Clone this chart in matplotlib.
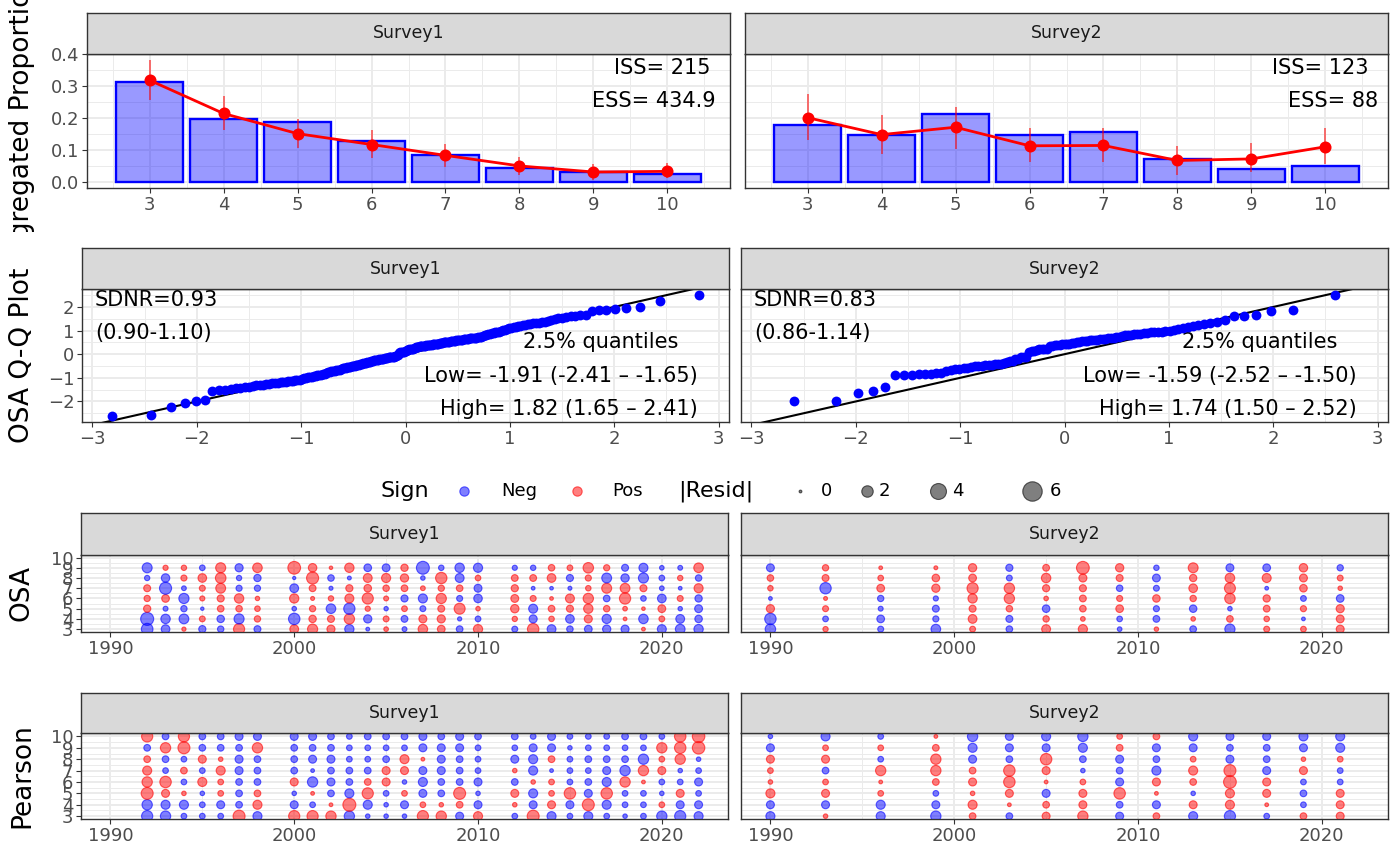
import statistics
import numpy as np
import matplotlib
matplotlib.use("Agg")
import matplotlib.pyplot as plt
from matplotlib.transforms import Bbox, TransformedBbox

# ---------------- data ----------------
ages = [3, 4, 5, 6, 7, 8, 9, 10]

# aggregated proportions (bars = observed, points = predicted, whiskers = interval)
obs_s1 = [0.313, 0.197, 0.186, 0.127, 0.084, 0.044, 0.032, 0.024]
pred_s1 = [0.318, 0.214, 0.151, 0.117, 0.083, 0.050, 0.031, 0.033]
lo_s1 = [0.256, 0.163, 0.106, 0.074, 0.046, 0.023, 0.007, 0.013]
hi_s1 = [0.381, 0.269, 0.198, 0.161, 0.120, 0.079, 0.055, 0.059]

obs_s2 = [0.179, 0.147, 0.211, 0.147, 0.155, 0.073, 0.041, 0.049]
pred_s2 = [0.201, 0.148, 0.171, 0.113, 0.114, 0.067, 0.072, 0.110]
lo_s2 = [0.130, 0.088, 0.104, 0.063, 0.063, 0.023, 0.032, 0.055]
hi_s2 = [0.275, 0.209, 0.235, 0.170, 0.170, 0.113, 0.121, 0.170]

iss_labels = ["ISS= 215", "ISS= 123"]
ess_labels = ["ESS= 434.9", "ESS= 88"]
sdnr_labels = [["SDNR=0.93", "(0.90-1.10)"], ["SDNR=0.83", "(0.86-1.14)"]]
quant_labels = [["Low= -1.91 (-2.41 \u2013 -1.65)", "High= 1.82 (1.65 \u2013 2.41)"],
                ["Low= -1.59 (-2.52 \u2013 -1.50)", "High= 1.74 (1.50 \u2013 2.52)"]]

years_s1 = [1992, 1993, 1994, 1995, 1996, 1997, 1998,
            2000, 2001, 2002, 2003, 2004, 2005, 2006, 2007, 2008, 2009, 2010,
            2012, 2013, 2014, 2015, 2016, 2017, 2018, 2019, 2020, 2021, 2022]
years_s2 = [1990, 1993, 1996, 1999, 2001, 2003, 2005, 2007, 2009, 2011,
            2013, 2015, 2017, 2019, 2021]

osa_ages = [3, 4, 5, 6, 7, 8, 9]

# OSA residuals, one row per year, ages 3..9
osa_s1 = [
    [-2.07, -2.62, 0.72, 0.51, 0.66, -0.33, -1.48],
    [-1.08, -1.31, -0.27, 0.83, -2.24, -1.02, 0.31],
    [0.16, -1.42, -0.52, -1.56, -0.24, 0.47, 0.34],
    [-0.71, 0.43, -0.06, 0.29, 0.45, 1.07, -0.39],
    [-0.54, -0.77, 0.59, 0.69, 1.45, 1.68, 1.52],
    [1.89, -1.52, 0.56, 1.31, -0.48, -0.33, -0.95],
    [-0.65, 0.53, 0.38, 0.19, -0.50, -0.73, 1.36],
    [1.12, -2.00, -0.21, 1.26, -1.12, -0.04, 2.49],
    [1.55, 0.76, 0.51, 0.13, 0.64, 2.24, 1.04],
    [0.93, 0.68, -1.37, 0.35, -0.14, -0.57, 0.07],
    [-1.27, 1.61, -1.94, 1.18, 0.70, -0.12, 1.29],
    [-0.11, -0.97, 0.32, 1.89, 0.80, 1.14, -0.82],
    [0.22, 0.44, -0.18, 0.27, 0.55, 1.22, -0.86],
    [-0.26, -0.62, 0.41, -0.69, 0.61, 0.98, 0.74],
    [1.34, 0.90, -0.44, -1.21, 0.24, -0.20, -2.58],
    [0.84, 0.95, 0.65, 1.57, 0.52, 1.97, -0.36],
    [-0.60, -0.16, 1.83, -0.46, 0.58, -1.16, -1.31],
    [1.25, -0.41, 0.20, -1.05, -0.89, 0.39, -1.23],
    [-0.45, 0.33, 1.01, 0.88, 0.71, 0.62, -0.30],
    [2.00, -0.93, -1.19, 0.46, -0.10, 0.63, -0.35],
    [-1.14, 0.37, 0.60, 0.09, -0.08, 1.10, 0.57],
    [-0.56, -1.09, 0.68, 1.17, -0.13, -0.68, 0.40],
    [-0.84, 0.92, 1.30, 1.60, 0.36, 0.49, 1.65],
    [-0.98, -1.25, 0.54, -0.59, 1.48, -1.45, 0.50],
    [-0.92, 0.10, 0.22, 1.93, 1.41, -1.00, -0.66],
    [0.10, -1.34, 0.08, -0.38, 0.68, -1.52, -1.20],
    [-1.17, 0.42, 0.86, -1.09, -0.23, -0.40, -0.21],
    [-1.40, -1.13, -0.19, 0.45, -0.10, 0.34, -0.25],
    [-1.29, -0.79, -0.88, -0.74, 1.20, -0.55, 1.38],
]
osa_s2 = [
    [-1.66, -1.99, 0.95, -0.10, 0.36, 0.57, -0.88],
    [0.33, -0.40, 0.45, 0.12, -1.96, 0.65, 0.52],
    [-0.45, -0.83, -0.27, -0.52, 0.84, 0.39, 0.10],
    [-1.38, -0.48, -0.64, -0.30, 0.96, 0.80, 0.12],
    [0.43, 1.12, 0.67, 1.27, 1.89, 0.85, 0.98],
    [-0.58, -0.66, 0.55, 1.60, 1.62, -0.43, -0.70],
    [1.15, 0.53, -0.80, 0.21, 0.70, 1.31, 0.62],
    [1.24, 0.23, 0.58, 0.64, 0.69, 0.93, 2.52],
    [-0.22, -0.39, 0.82, 0.47, -0.56, 0.66, 0.99],
    [0.19, -0.61, -0.47, 0.78, -0.44, -0.86, -0.35],
    [-0.60, 0.21, -0.78, 0.54, 1.08, 0.74, 1.46],
    [-1.57, 0.59, -0.20, 1.65, 1.82, 1.36, -0.89],
    [0.44, 0.37, 0.61, 0.73, -0.10, 1.18, -0.84],
    [0.40, -0.10, 0.48, -0.42, 0.81, 0.89, 1.03],
    [0.90, 0.87, 0.94, -0.82, 0.20, 0.43, -0.52],
]

# Pearson residuals, one row per year, ages 3..10
pearson_s1 = [
    [-1.9, -1.6, 2.2, 1.6, 1.2, 0.6, -0.6, 1.9],
    [-1.6, -1.2, 0.9, 2.0, -0.4, -0.6, 1.6, -0.6],
    [-0.4, -1.2, 0.2, -0.4, 0.6, -0.4, 2.2, 1.9],
    [-0.4, -0.4, -0.2, 1.2, -0.4, 0.9, -0.6, -0.6],
    [-0.4, -0.9, 0.4, 0.4, 1.2, 0.2, -0.6, -0.6],
    [2.2, -0.6, -0.6, -0.6, -0.9, -0.9, -0.6, -0.9],
    [-1.2, 1.2, 0.6, -0.6, -0.6, -0.6, 1.6, -0.9],
    [1.9, -0.9, -0.2, 0.9, -0.6, -0.6, -0.6, -0.9],
    [1.9, -0.4, 0.1, -1.6, -0.1, -0.9, -0.6, -0.9],
    [1.6, 0.1, -0.6, -0.9, -0.6, -0.9, -0.6, -0.6],
    [-1.6, 2.6, -1.2, -0.6, -0.6, -0.4, -0.4, -0.4],
    [-0.2, -1.2, 1.9, 0.6, -0.6, -0.4, -0.4, -0.6],
    [-0.2, -0.2, -0.4, 0.9, 0.9, -0.6, -0.4, -0.6],
    [-0.2, -0.9, 0.4, -0.2, 0.9, 1.2, -0.4, -0.6],
    [1.9, 0.4, -0.9, -1.2, -0.9, 0.1, -0.9, -0.9],
    [1.6, 0.2, -0.6, -0.6, -0.9, -0.9, -0.9, -0.6],
    [-0.9, 0.6, 2.2, -0.6, -0.6, -0.6, -0.9, -0.9],
    [1.2, -0.9, -0.2, -0.9, -0.4, -0.4, -0.4, -0.6],
    [-0.4, 0.2, 0.9, -0.6, 0.2, -0.9, -0.4, -0.6],
    [2.2, -0.9, -1.2, 0.2, -1.2, -1.2, -0.9, -0.4],
    [-1.2, 0.9, 0.4, 0.4, -0.1, 0.6, -0.9, -0.9],
    [-0.4, -0.9, 2.0, -0.4, -0.4, -0.4, -0.2, -0.4],
    [-1.2, 2.2, -0.9, -0.6, -0.4, -0.6, -0.4, -0.4],
    [-0.4, -1.2, 2.0, -1.2, -0.9, -0.6, -0.4, -0.4],
    [-0.2, -0.4, -0.4, 1.6, -1.6, -0.6, -0.4, -0.6],
    [-0.4, -0.4, -0.4, 0.1, 1.6, -1.6, -0.4, -0.6],
    [-1.6, 0.4, -0.2, -0.4, 0.9, 0.4, 1.6, -0.4],
    [-1.9, -0.9, 0.9, -0.4, -0.2, 1.6, 2.0, 2.0],
    [-1.2, -0.9, -0.4, -0.9, -0.4, -0.2, 2.4, 2.4],
]
pearson_s2 = [
    [-1.2, -0.9, 1.2, 0.2, 0.4, 0.9, -0.9, -0.2],
    [0.2, -0.9, 0.9, 0.4, -0.6, 0.9, 0.4, -1.2],
    [-1.2, -1.2, 0.4, 0.1, 1.6, -0.4, 0.4, -0.4],
    [-1.6, -0.9, -0.4, 0.6, 1.6, 1.6, 0.6, 0.1],
    [0.6, 1.2, 0.2, 0.9, 0.6, -0.9, -1.2, -1.6],
    [-0.6, 0.1, 0.9, 2.0, 2.0, -0.6, -0.9, -0.9],
    [0.9, 0.6, -0.9, 0.1, 0.9, 2.0, -0.9, -1.2],
    [1.6, 0.9, 0.9, 0.4, -0.2, -0.6, -1.2, -1.6],
    [-0.9, -0.6, 2.0, -0.9, -0.6, -0.9, 0.6, 0.4],
    [0.6, -0.9, 0.1, 0.9, -1.2, -0.6, -0.9, 0.6],
    [-1.2, 0.9, -0.2, 0.6, 1.2, 0.4, -0.9, -1.2],
    [-1.9, 1.2, 1.2, 2.5, 2.2, -0.9, -0.6, -0.9],
    [-0.4, 0.1, 0.9, 0.9, -0.9, -0.6, -0.6, -0.9],
    [0.6, -0.4, -0.6, -0.4, 0.9, 0.2, -0.9, -1.2],
    [0.9, 0.9, 0.9, -0.4, -0.4, 0.4, -1.2, -1.2],
]

size_keys = [0, 2, 4, 6]

# ---------------- styling ----------------
W, H = 1400, 866
GRID = "#EBEBEB"
BORDER = "#333333"
TICKTXT = "#4D4D4D"
TICK_FS = 13
STRIP_FS = 12.5
TITLE_FS = 19
ANNOT_FS = 15

fig = plt.figure(figsize=(W / 100, H / 100), dpi=100)


def rect(x0, y0, x1, y1):
    return [x0 / W, 1 - y1 / H, (x1 - x0) / W, (y1 - y0) / H]


def make_panel(px, strip_top, title):
    x0, y0, x1, y1 = px
    ax = fig.add_axes(rect(x0, y0, x1, y1))
    sax = fig.add_axes(rect(x0, strip_top, x1, y0))
    sax.set_facecolor("#D9D9D9")
    sax.set_xticks([])
    sax.set_yticks([])
    for sp in sax.spines.values():
        sp.set_color(BORDER)
        sp.set_linewidth(1.0)
    sax.text(0.5, 0.5, title, ha="center", va="center", fontsize=STRIP_FS,
             color="#1A1A1A", transform=sax.transAxes)
    ax.set_axisbelow(True)
    for sp in ax.spines.values():
        sp.set_color(BORDER)
        sp.set_linewidth(1.0)
    ax.tick_params(axis="both", which="major", length=3.5, width=0.8, color=BORDER,
                   labelsize=TICK_FS, labelcolor=TICKTXT, pad=2)
    ax.tick_params(axis="both", which="minor", length=0)
    ax.grid(True, which="major", color=GRID, linewidth=1.4)
    ax.grid(True, which="minor", color=GRID, linewidth=0.7)
    return ax


# ---------------- row 1: aggregated proportions ----------------
top_specs = [
    ((87, 54, 730, 188), obs_s1, pred_s1, lo_s1, hi_s1, "Survey1", True,
     (0.970, 0.977)),
    ((745, 54, 1388, 188), obs_s2, pred_s2, lo_s2, hi_s2, "Survey2", False,
     (0.970, 0.984)),
]
for i, (px, obs, pred, lo, hi, name, show_y, xr) in enumerate(top_specs):
    ax = make_panel(px, 13, name)
    ax.bar(ages, obs, width=0.9, facecolor=(0, 0, 1, 0.4), edgecolor="#0000FF",
           linewidth=1.7)
    ax.vlines(ages, lo, hi, color=(1, 0, 0, 0.55), linewidth=1.4)
    ax.plot(ages, pred, color="#FF0000", linewidth=2.0, zorder=3)
    ax.scatter(ages, pred, s=75, color="#FF0000", zorder=4, linewidths=0)
    ax.set_xlim(2.155, 10.845)
    ax.set_ylim(-0.019, 0.40)
    ax.set_xticks(ages)
    ax.set_xticks([2.5, 3.5, 4.5, 5.5, 6.5, 7.5, 8.5, 9.5, 10.5], minor=True)
    ax.set_yticks([0.0, 0.1, 0.2, 0.3, 0.4])
    ax.set_yticks([0.05, 0.15, 0.25, 0.35], minor=True)
    if show_y:
        ax.set_yticklabels(["0.0", "0.1", "0.2", "0.3", "0.4"])
    else:
        ax.tick_params(axis="y", which="major", length=0, labelleft=False)
    ax.text(xr[0], 0.896, iss_labels[i], transform=ax.transAxes, ha="right",
            va="center", fontsize=ANNOT_FS, color="black")
    ax.text(xr[1], 0.649, ess_labels[i], transform=ax.transAxes, ha="right",
            va="center", fontsize=ANNOT_FS, color="black")

# ---------------- row 2: OSA Q-Q plots ----------------
nd = statistics.NormalDist()
qq_specs = [((82, 289, 729, 422), osa_s1, "Survey1", True),
            ((741, 289, 1388, 422), osa_s2, "Survey2", False)]
for i, (px, mat, name, show_y) in enumerate(qq_specs):
    ax = make_panel(px, 248, name)
    sample = np.sort(np.asarray(mat).ravel())
    n = len(sample)
    theo = [nd.inv_cdf((k - 0.5) / n) for k in range(1, n + 1)]
    ax.plot([-3.5, 3.5], [-3.5, 3.5], color="black", linewidth=1.5, zorder=3)
    ax.scatter(theo, sample, s=50, color="#0000FF", linewidths=0, zorder=4)
    ax.set_xlim(-3.1, 3.1)
    ax.set_ylim(-2.87, 2.76)
    ax.set_xticks([-3, -2, -1, 0, 1, 2, 3])
    ax.set_xticks([-2.5, -1.5, -0.5, 0.5, 1.5, 2.5], minor=True)
    ax.set_yticks([-2, -1, 0, 1, 2])
    ax.set_yticks([-2.5, -1.5, -0.5, 0.5, 1.5, 2.5], minor=True)
    if not show_y:
        ax.tick_params(axis="y", which="major", length=0, labelleft=False)
    ax.text(0.02, 0.917, sdnr_labels[i][0], transform=ax.transAxes, ha="left",
            va="center", fontsize=ANNOT_FS)
    ax.text(0.02, 0.669, sdnr_labels[i][1], transform=ax.transAxes, ha="left",
            va="center", fontsize=ANNOT_FS)
    ax.text(0.922, 0.60, "2.5% quantiles", transform=ax.transAxes, ha="right",
            va="center", fontsize=ANNOT_FS)
    ax.text(0.951, 0.346, quant_labels[i][0], transform=ax.transAxes, ha="right",
            va="center", fontsize=ANNOT_FS)
    ax.text(0.952, 0.098, quant_labels[i][1], transform=ax.transAxes, ha="right",
            va="center", fontsize=ANNOT_FS)


# ---------------- rows 3-4: bubble plots ----------------
def bubble_size(v):
    return 4.0 + 32.0 * np.abs(v)


def bubbles(ax, years, ages_, mat):
    vals = np.asarray(mat)
    xs = np.repeat(years, len(ages_))
    ys = np.tile(ages_, len(years))
    v = vals.ravel()
    face = np.where(v[:, None] < 0, [[0, 0, 1, 0.5]], [[1, 0, 0, 0.5]])
    edge = np.where(v[:, None] < 0, [[0, 0, 1, 0.6]], [[1, 0, 0, 0.6]])
    ax.scatter(xs, ys, s=bubble_size(v), c=face, edgecolors=edge, linewidths=0.8,
               zorder=3)


bubble_rows = [
    (513, 555, 632, osa_s1, osa_s2, osa_ages, (2.72, 10.25)),
    (693, 733, 819, pearson_s1, pearson_s2, ages, (2.75, 10.3)),
]
for strip_top, top, bot, m1, m2, ag, ylim in bubble_rows:
    for px, years, mat, name, show_y in [((81, top, 728, bot), years_s1, m1, "Survey1", True),
                                          ((741, top, 1388, bot), years_s2, m2, "Survey2", False)]:
        ax = make_panel(px, strip_top, name)
        bubbles(ax, years, ag, mat)
        ax.set_xlim(1988.4, 2023.6)
        ax.set_ylim(*ylim)
        ax.set_xticks([1990, 2000, 2010, 2020])
        ax.set_xticks([1995, 2005, 2015], minor=True)
        ax.set_yticks(ages)
        ax.set_yticks([3.5, 4.5, 5.5, 6.5, 7.5, 8.5, 9.5], minor=True)
        if not show_y:
            ax.tick_params(axis="y", which="major", length=0, labelleft=False)

# ---------------- axis titles ----------------
title_specs = [("Aggregated Proportion", 123, (0, 232)),
               ("OSA Q-Q Plot", 355, (232, 470)),
               ("OSA", 593, (470, 660)),
               ("Pearson", 776, (660, 866))]
for label, yc, (ya, yb) in title_specs:
    t = fig.text(22 / W, 1 - yc / H, label, rotation=90, ha="center", va="center",
                 fontsize=TITLE_FS, color="black")
    clip = TransformedBbox(Bbox.from_extents(0, 1 - yb / H, 0.06, 1 - ya / H),
                           fig.transFigure)
    t.set_clip_box(clip)
    t.set_clip_on(True)

# ---------------- legend ----------------
lg = fig.add_axes([0, 0, 1, 1], facecolor="none")
lg.set_xlim(0, W)
lg.set_ylim(H, 0)
lg.axis("off")
ly = 491
lg.text(380, ly, "Sign", ha="left", va="center", fontsize=16)
lg.scatter([464], [ly], s=45, color=(0, 0, 1, 0.5), edgecolors=(0, 0, 1, 0.6),
           linewidths=0.8)
lg.text(501, ly, "Neg", ha="left", va="center", fontsize=TICK_FS)
lg.scatter([577], [ly], s=45, color=(1, 0, 0, 0.5), edgecolors=(1, 0, 0, 0.6),
           linewidths=0.8)
lg.text(612, ly, "Pos", ha="left", va="center", fontsize=TICK_FS)
lg.text(678, ly, "|Resid|", ha="left", va="center", fontsize=16)
size_x = [800, 867, 938, 1032]
label_x = [827, 884, 958, 1055]
for k, xk, xt in zip(size_keys, size_x, label_x):
    lg.scatter([xk], [ly], s=bubble_size(k), color=(0, 0, 0, 0.5),
               edgecolors=(0, 0, 0, 0.6), linewidths=0.8)
    lg.text(xt, ly, str(k), ha="center", va="center", fontsize=TICK_FS)

fig.savefig("out.png", dpi=100)
